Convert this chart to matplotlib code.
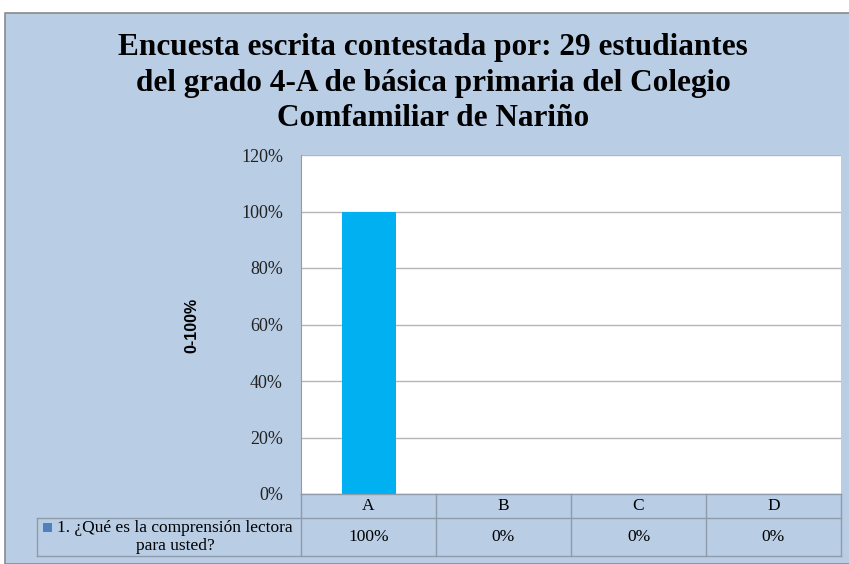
import matplotlib
matplotlib.use("Agg")
import matplotlib.pyplot as plt
from matplotlib.patches import Rectangle
from matplotlib.lines import Line2D
from matplotlib.transforms import blended_transform_factory

categories = ["A", "B", "C", "D"]
values = [1.0, 0.0, 0.0, 0.0]
value_labels = ["100%", "0%", "0%", "0%"]
yticks = [0, 0.2, 0.4, 0.6, 0.8, 1.0, 1.2]
ytick_labels = ["0%", "20%", "40%", "60%", "80%", "100%", "120%"]
series_name = "1. ¿Qué es la comprensión lectora\npara usted?"
title = ("Encuesta escrita contestada por: 29 estudiantes\n"
         "del grado 4-A de básica primaria del Colegio\n"
         "Comfamiliar de Nariño")
ylabel = "0-100%"

W, H = 849, 564
bg = "#B9CDE5"
bar_color = "#00B0F0"
edge = "#8E9BAB"
serif = ["Liberation Serif", "DejaVu Serif"]

fig = plt.figure(figsize=(W / 100, H / 100), dpi=100)
fig.patch.set_facecolor("white")

def fx(px):
    return px / W

def fy(py):
    return 1 - py / H

# chart background box
fig.add_artist(Rectangle((fx(5), 0), 1 - fx(5) + 0.01, fy(13), transform=fig.transFigure,
                         facecolor=bg, edgecolor="#8A8A8A", linewidth=1.2, zorder=-10))

# plot area
left, right, top, bottom = 301, 841, 155, 494
ax = fig.add_axes([fx(left), fy(bottom), fx(right - left), fy(top) - fy(bottom)])
ax.set_facecolor("white")
x = list(range(len(categories)))
ax.bar(x, values, width=0.4, color=bar_color, zorder=3)
ax.set_xlim(-0.5, len(categories) - 0.5)
ax.set_ylim(0, 1.2)
ax.set_yticks(yticks)
ax.set_yticklabels(ytick_labels, fontsize=13, family=serif, color="#222222")
ax.set_xticks([])
ax.tick_params(axis="y", length=0, pad=13)
ax.grid(axis="y", color="#B5B5B5", linewidth=1, zorder=0)
for s in ["top", "right", "bottom"]:
    ax.spines[s].set_visible(False)
ax.spines["left"].set_color("#9A9A9A")

fig.text(fx(192), fy(325), ylabel, rotation=90, ha="center", va="center",
         fontsize=11.5, fontweight="bold", family=["Liberation Sans", "DejaVu Sans"])

fig.text(0.51, fy(83), title, ha="center", va="center", fontsize=22.5,
         fontweight="bold", family=serif, linespacing=1.3)

# data table under the axis
row1, row2, row3 = 494, 518, 556
tl = 37
ln = dict(color=edge, linewidth=1.0)
fig.add_artist(Line2D([fx(left), fx(right)], [fy(row1)] * 2, **ln))
fig.add_artist(Line2D([fx(tl), fx(right)], [fy(row2)] * 2, **ln))
fig.add_artist(Line2D([fx(tl), fx(right)], [fy(row3)] * 2, **ln))
fig.add_artist(Line2D([fx(tl)] * 2, [fy(row2), fy(row3)], **ln))
trans = blended_transform_factory(ax.transData, fig.transFigure)
for i in range(len(categories) + 1):
    xb = i - 0.5
    fig.add_artist(Line2D([xb, xb], [fy(row1), fy(row3)], transform=trans, **ln))
for i, (c, v) in enumerate(zip(categories, value_labels)):
    fig.text(i, fy((row1 + row2) / 2), c, transform=trans, ha="center", va="center",
             fontsize=12.5, family=serif)
    fig.text(i, fy((row2 + row3) / 2), v, transform=trans, ha="center", va="center",
             fontsize=12.5, family=serif)

fig.add_artist(Rectangle((fx(43), fy(532)), fx(9), fy(523) - fy(532),
                         transform=fig.transFigure, facecolor="#4F81BD", edgecolor="none"))
fig.text(fx(175), fy((row2 + row3) / 2), series_name, ha="center", va="center",
         fontsize=12.5, family=serif, linespacing=1.25, multialignment="center")

fig.savefig("out.png", dpi=100)
